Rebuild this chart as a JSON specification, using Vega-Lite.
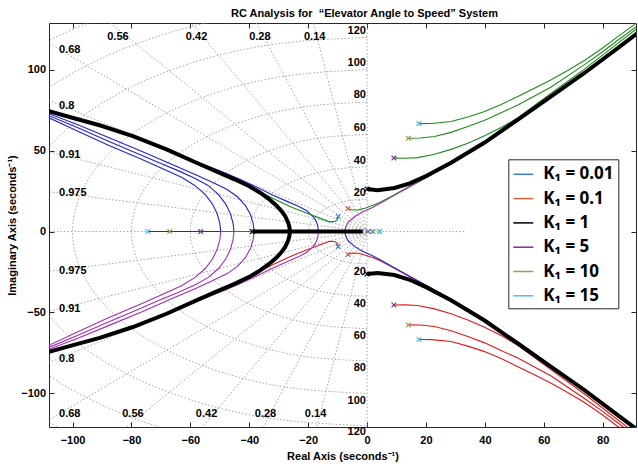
{
"$schema": "https://vega.github.io/schema/vega-lite/v6.json",
"width": 587, "height": 404,
"autosize": {"type": "none"},
"padding": {"left": 49, "top": 23, "right": 2, "bottom": 39},
"title": {"text": "RC Analysis for\u00a0\u00a0“Elevator Angle to Speed” System", "font": "Liberation Sans", "fontSize": 11, "fontWeight": "bold", "color": "#000", "anchor": "middle", "dx": 22, "offset": 4},
"config": {
 "view": {"stroke": "#262626", "strokeWidth": 1},
 "axis": {"labelFont": "Liberation Sans", "labelFontWeight": "bold", "labelFontSize": 11, "labelColor": "#000", "titleFont": "Liberation Sans", "titleFontWeight": "bold", "titleFontSize": 11, "titleColor": "#000", "tickColor": "#262626", "domain": false, "grid": false, "tickSize": -5},
 "text": {"font": "Liberation Sans", "fontWeight": "bold", "fontSize": 11, "color": "#000", "baseline": "middle"}
},
"datasets": {
"grid": [
{"g":"c20","o":0,"x":0,"y":20},{"g":"c20","o":1,"x":-5.18,"y":19.32},{"g":"c20","o":2,"x":-10,"y":17.32},{"g":"c20","o":3,"x":-14.14,"y":14.14},{"g":"c20","o":4,"x":-17.32,"y":10},{"g":"c20","o":5,"x":-19.32,"y":5.18},{"g":"c20","o":6,"x":-20,"y":0},{"g":"c20","o":7,"x":-19.32,"y":-5.18},{"g":"c20","o":8,"x":-17.32,"y":-10},{"g":"c20","o":9,"x":-14.14,"y":-14.14},{"g":"c20","o":10,"x":-10,"y":-17.32},{"g":"c20","o":11,"x":-5.18,"y":-19.32},{"g":"c20","o":12,"x":0,"y":-20},
{"g":"c40","o":0,"x":0,"y":40},{"g":"c40","o":1,"x":-10.35,"y":38.64},{"g":"c40","o":2,"x":-20,"y":34.64},{"g":"c40","o":3,"x":-28.28,"y":28.28},{"g":"c40","o":4,"x":-34.64,"y":20},{"g":"c40","o":5,"x":-38.64,"y":10.35},{"g":"c40","o":6,"x":-40,"y":0},{"g":"c40","o":7,"x":-38.64,"y":-10.35},{"g":"c40","o":8,"x":-34.64,"y":-20},{"g":"c40","o":9,"x":-28.28,"y":-28.28},{"g":"c40","o":10,"x":-20,"y":-34.64},{"g":"c40","o":11,"x":-10.35,"y":-38.64},{"g":"c40","o":12,"x":0,"y":-40},
{"g":"c60","o":0,"x":0,"y":60},{"g":"c60","o":1,"x":-15.53,"y":57.96},{"g":"c60","o":2,"x":-30,"y":51.96},{"g":"c60","o":3,"x":-42.43,"y":42.43},{"g":"c60","o":4,"x":-51.96,"y":30},{"g":"c60","o":5,"x":-57.96,"y":15.53},{"g":"c60","o":6,"x":-60,"y":0},{"g":"c60","o":7,"x":-57.96,"y":-15.53},{"g":"c60","o":8,"x":-51.96,"y":-30},{"g":"c60","o":9,"x":-42.43,"y":-42.43},{"g":"c60","o":10,"x":-30,"y":-51.96},{"g":"c60","o":11,"x":-15.53,"y":-57.96},{"g":"c60","o":12,"x":0,"y":-60},
{"g":"c80","o":0,"x":0,"y":80},{"g":"c80","o":1,"x":-20.71,"y":77.27},{"g":"c80","o":2,"x":-40,"y":69.28},{"g":"c80","o":3,"x":-56.57,"y":56.57},{"g":"c80","o":4,"x":-69.28,"y":40},{"g":"c80","o":5,"x":-77.27,"y":20.71},{"g":"c80","o":6,"x":-80,"y":0},{"g":"c80","o":7,"x":-77.27,"y":-20.71},{"g":"c80","o":8,"x":-69.28,"y":-40},{"g":"c80","o":9,"x":-56.57,"y":-56.57},{"g":"c80","o":10,"x":-40,"y":-69.28},{"g":"c80","o":11,"x":-20.71,"y":-77.27},{"g":"c80","o":12,"x":0,"y":-80},
{"g":"c100","o":0,"x":0,"y":100},{"g":"c100","o":1,"x":-25.88,"y":96.59},{"g":"c100","o":2,"x":-50,"y":86.6},{"g":"c100","o":3,"x":-70.71,"y":70.71},{"g":"c100","o":4,"x":-86.6,"y":50},{"g":"c100","o":5,"x":-96.59,"y":25.88},{"g":"c100","o":6,"x":-100,"y":0},{"g":"c100","o":7,"x":-96.59,"y":-25.88},{"g":"c100","o":8,"x":-86.6,"y":-50},{"g":"c100","o":9,"x":-70.71,"y":-70.71},{"g":"c100","o":10,"x":-50,"y":-86.6},{"g":"c100","o":11,"x":-25.88,"y":-96.59},{"g":"c100","o":12,"x":0,"y":-100},
{"g":"c120","o":0,"x":0,"y":120},{"g":"c120","o":1,"x":-31.06,"y":115.91},{"g":"c120","o":2,"x":-60,"y":103.92},{"g":"c120","o":3,"x":-84.85,"y":84.85},{"g":"c120","o":4,"x":-103.92,"y":60},{"g":"c120","o":5,"x":-115.91,"y":31.06},{"g":"c120","o":6,"x":-120,"y":0},{"g":"c120","o":7,"x":-115.91,"y":-31.06},{"g":"c120","o":8,"x":-103.92,"y":-60},{"g":"c120","o":9,"x":-84.85,"y":-84.85},{"g":"c120","o":10,"x":-60,"y":-103.92},{"g":"c120","o":11,"x":-31.06,"y":-115.91},{"g":"c120","o":12,"x":0,"y":-120},
{"g":"c140","o":0,"x":0,"y":140},{"g":"c140","o":1,"x":-36.23,"y":135.23},{"g":"c140","o":2,"x":-70,"y":121.24},{"g":"c140","o":3,"x":-98.99,"y":98.99},{"g":"c140","o":4,"x":-121.24,"y":70},{"g":"c140","o":5,"x":-135.23,"y":36.23},{"g":"c140","o":6,"x":-140,"y":0},{"g":"c140","o":7,"x":-135.23,"y":-36.23},{"g":"c140","o":8,"x":-121.24,"y":-70},{"g":"c140","o":9,"x":-98.99,"y":-98.99},{"g":"c140","o":10,"x":-70,"y":-121.24},{"g":"c140","o":11,"x":-36.23,"y":-135.23},{"g":"c140","o":12,"x":0,"y":-140},
{"g":"c160","o":0,"x":0,"y":160},{"g":"c160","o":1,"x":-41.41,"y":154.55},{"g":"c160","o":2,"x":-80,"y":138.56},{"g":"c160","o":3,"x":-113.14,"y":113.14},{"g":"c160","o":4,"x":-138.56,"y":80},{"g":"c160","o":5,"x":-154.55,"y":41.41},{"g":"c160","o":6,"x":-160,"y":0},{"g":"c160","o":7,"x":-154.55,"y":-41.41},{"g":"c160","o":8,"x":-138.56,"y":-80},{"g":"c160","o":9,"x":-113.14,"y":-113.14},{"g":"c160","o":10,"x":-80,"y":-138.56},{"g":"c160","o":11,"x":-41.41,"y":-154.55},{"g":"c160","o":12,"x":0,"y":-160},
{"g":"zu14","o":0,"x":0,"y":0},{"g":"zu14","o":1,"x":-28,"y":198},
{"g":"zu28","o":0,"x":0,"y":0},{"g":"zu28","o":1,"x":-56,"y":192},
{"g":"zu42","o":0,"x":0,"y":0},{"g":"zu42","o":1,"x":-84,"y":181.5},
{"g":"zu56","o":0,"x":0,"y":0},{"g":"zu56","o":1,"x":-112,"y":165.7},
{"g":"zu68","o":0,"x":0,"y":0},{"g":"zu68","o":1,"x":-136,"y":146.6},
{"g":"zu80","o":0,"x":0,"y":0},{"g":"zu80","o":1,"x":-160,"y":120},
{"g":"zu91","o":0,"x":0,"y":0},{"g":"zu91","o":1,"x":-182,"y":82.9},
{"g":"zu975","o":0,"x":0,"y":0},{"g":"zu975","o":1,"x":-195,"y":44.4},
{"g":"zl14","o":0,"x":0,"y":0},{"g":"zl14","o":1,"x":-28,"y":-198},
{"g":"zl28","o":0,"x":0,"y":0},{"g":"zl28","o":1,"x":-56,"y":-192},
{"g":"zl42","o":0,"x":0,"y":0},{"g":"zl42","o":1,"x":-84,"y":-181.5},
{"g":"zl56","o":0,"x":0,"y":0},{"g":"zl56","o":1,"x":-112,"y":-165.7},
{"g":"zl68","o":0,"x":0,"y":0},{"g":"zl68","o":1,"x":-136,"y":-146.6},
{"g":"zl80","o":0,"x":0,"y":0},{"g":"zl80","o":1,"x":-160,"y":-120},
{"g":"zl91","o":0,"x":0,"y":0},{"g":"zl91","o":1,"x":-182,"y":-82.9},
{"g":"zl975","o":0,"x":0,"y":0},{"g":"zl975","o":1,"x":-195,"y":-44.4},
{"g":"h0","o":0,"x":-160,"y":0},{"g":"h0","o":1,"x":33,"y":0},
{"g":"v0","o":0,"x":0,"y":-200},{"g":"v0","o":1,"x":0,"y":200}
],
"zs": [{"t":"0.68","x":-104.6,"y":112},{"t":"0.8","x":-104.6,"y":77.7},{"t":"0.91","x":-104.6,"y":47.4},{"t":"0.975","x":-104.6,"y":23.7},{"t":"0.975","x":-104.6,"y":-24.3},{"t":"0.91","x":-104.6,"y":-48},{"t":"0.8","x":-104.6,"y":-78.7},{"t":"0.68","x":-104.6,"y":-113}],
"zt": [{"t":"0.56","x":-84.6,"y":120},{"t":"0.42","x":-57.9,"y":120},{"t":"0.28","x":-36.4,"y":120},{"t":"0.14","x":-17.8,"y":120},{"t":"0.56","x":-79.5,"y":-113},{"t":"0.42","x":-54.5,"y":-113},{"t":"0.28","x":-34.5,"y":-113},{"t":"0.14","x":-17.5,"y":-113}],
"wn": [{"t":"20","x":-0.4,"y":23.7},{"t":"40","x":-0.4,"y":43.9},{"t":"60","x":-0.4,"y":63.9},{"t":"80","x":-0.4,"y":84.1},{"t":"100","x":-0.4,"y":104.1},{"t":"120","x":-0.4,"y":123.7},{"t":"20","x":-0.4,"y":-25.1},{"t":"40","x":-0.4,"y":-44.7},{"t":"60","x":-0.4,"y":-64.5},{"t":"80","x":-0.4,"y":-84.5},{"t":"100","x":-0.4,"y":-104.5},{"t":"120","x":-0.4,"y":-124.1}],
"poles": [
{"k":"1","x":-38.9,"y":0},{"k":"1","x":0,"y":26.3},{"k":"1","x":0,"y":-26.3},
{"k":"5","x":-56.5,"y":0},{"k":"5","x":9.1,"y":45.4},{"k":"5","x":9.1,"y":-45.4},{"k":"5","x":1.9,"y":0},
{"k":"10","x":-67,"y":0},{"k":"10","x":14,"y":57.7},{"k":"10","x":14,"y":-57.7},{"k":"10","x":1.9,"y":0},
{"k":"0.1","x":-6.5,"y":14.2},{"k":"0.1","x":-6.5,"y":-14.2},{"k":"0.1","x":4.2,"y":0},
{"k":"0.01","x":-9.8,"y":9.3},{"k":"0.01","x":-9.8,"y":-9.3},{"k":"0.01","x":0.3,"y":0},
{"k":"15","x":-74.4,"y":0},{"k":"15","x":17.6,"y":66.7},{"k":"15","x":17.6,"y":-66.7},{"k":"15","x":4.2,"y":0}
],
"loci": [
{"k":"15","b":"1","id":"15ul","o":0,"x":-74.4,"y":0},{"k":"15","b":"1","id":"15ul","o":1,"x":-49.7,"y":0},{"k":"15","b":"1","id":"15ul","o":2,"x":-50,"y":5},{"k":"15","b":"1","id":"15ul","o":3,"x":-50.9,"y":11},{"k":"15","b":"1","id":"15ul","o":4,"x":-52.5,"y":17},{"k":"15","b":"1","id":"15ul","o":5,"x":-55,"y":23},{"k":"15","b":"1","id":"15ul","o":6,"x":-58.5,"y":28.5},{"k":"15","b":"1","id":"15ul","o":7,"x":-63,"y":33.5},{"k":"15","b":"1","id":"15ul","o":8,"x":-69,"y":38.5},{"k":"15","b":"1","id":"15ul","o":9,"x":-77,"y":45},{"k":"15","b":"1","id":"15ul","o":10,"x":-88,"y":53.5},{"k":"15","b":"1","id":"15ul","o":11,"x":-98,"y":61.8},{"k":"15","b":"1","id":"15ul","o":12,"x":-108,"y":70.3},{"k":"15","b":"1","id":"15ul","o":13,"x":-112,"y":73.3},
{"k":"15","b":"4","id":"15ll","o":0,"x":-38.9,"y":0},{"k":"15","b":"4","id":"15ll","o":1,"x":-49.7,"y":0},{"k":"15","b":"4","id":"15ll","o":2,"x":-50,"y":-5},{"k":"15","b":"4","id":"15ll","o":3,"x":-50.9,"y":-11},{"k":"15","b":"4","id":"15ll","o":4,"x":-52.5,"y":-17},{"k":"15","b":"4","id":"15ll","o":5,"x":-55,"y":-23},{"k":"15","b":"4","id":"15ll","o":6,"x":-58.5,"y":-28.5},{"k":"15","b":"4","id":"15ll","o":7,"x":-63,"y":-33.5},{"k":"15","b":"4","id":"15ll","o":8,"x":-69,"y":-38.5},{"k":"15","b":"4","id":"15ll","o":9,"x":-77,"y":-45},{"k":"15","b":"4","id":"15ll","o":10,"x":-88,"y":-53.5},{"k":"15","b":"4","id":"15ll","o":11,"x":-98,"y":-61.8},{"k":"15","b":"4","id":"15ll","o":12,"x":-108,"y":-70.3},{"k":"15","b":"4","id":"15ll","o":13,"x":-112,"y":-73.3},
{"k":"15","b":"2","id":"15ur","o":0,"x":17.6,"y":66.7},{"k":"15","b":"2","id":"15ur","o":1,"x":22,"y":66.8},{"k":"15","b":"2","id":"15ur","o":2,"x":28.5,"y":68},{"k":"15","b":"2","id":"15ur","o":3,"x":34.2,"y":70.8},{"k":"15","b":"2","id":"15ur","o":4,"x":39.9,"y":74.2},{"k":"15","b":"2","id":"15ur","o":5,"x":45.5,"y":78.5},{"k":"15","b":"2","id":"15ur","o":6,"x":51.2,"y":83.5},{"k":"15","b":"2","id":"15ur","o":7,"x":56.8,"y":88.5},{"k":"15","b":"2","id":"15ur","o":8,"x":62.5,"y":93.8},{"k":"15","b":"2","id":"15ur","o":9,"x":68.1,"y":99.5},{"k":"15","b":"2","id":"15ur","o":10,"x":73.8,"y":105.7},{"k":"15","b":"2","id":"15ur","o":11,"x":79.5,"y":112.8},{"k":"15","b":"2","id":"15ur","o":12,"x":85.1,"y":120.5},{"k":"15","b":"2","id":"15ur","o":13,"x":95,"y":133.5},
{"k":"15","b":"3","id":"15lr","o":0,"x":17.6,"y":-66.7},{"k":"15","b":"3","id":"15lr","o":1,"x":22,"y":-66.8},{"k":"15","b":"3","id":"15lr","o":2,"x":28.5,"y":-68},{"k":"15","b":"3","id":"15lr","o":3,"x":34.2,"y":-70.8},{"k":"15","b":"3","id":"15lr","o":4,"x":39.9,"y":-74.2},{"k":"15","b":"3","id":"15lr","o":5,"x":45.5,"y":-78.5},{"k":"15","b":"3","id":"15lr","o":6,"x":51.2,"y":-83.5},{"k":"15","b":"3","id":"15lr","o":7,"x":56.8,"y":-88.5},{"k":"15","b":"3","id":"15lr","o":8,"x":62.5,"y":-93.8},{"k":"15","b":"3","id":"15lr","o":9,"x":68.1,"y":-99.5},{"k":"15","b":"3","id":"15lr","o":10,"x":73.8,"y":-105.7},{"k":"15","b":"3","id":"15lr","o":11,"x":79.5,"y":-112.8},{"k":"15","b":"3","id":"15lr","o":12,"x":85.1,"y":-120.5},{"k":"15","b":"3","id":"15lr","o":13,"x":95,"y":-133.5},
{"k":"10","b":"1","id":"10ul","o":0,"x":-67,"y":0},{"k":"10","b":"1","id":"10ul","o":1,"x":-45.2,"y":0},{"k":"10","b":"1","id":"10ul","o":2,"x":-45.5,"y":5},{"k":"10","b":"1","id":"10ul","o":3,"x":-46.4,"y":11},{"k":"10","b":"1","id":"10ul","o":4,"x":-48,"y":17},{"k":"10","b":"1","id":"10ul","o":5,"x":-50.5,"y":23},{"k":"10","b":"1","id":"10ul","o":6,"x":-54,"y":28.5},{"k":"10","b":"1","id":"10ul","o":7,"x":-58.5,"y":33},{"k":"10","b":"1","id":"10ul","o":8,"x":-64,"y":37.5},{"k":"10","b":"1","id":"10ul","o":9,"x":-70,"y":42},{"k":"10","b":"1","id":"10ul","o":10,"x":-77,"y":47.5},{"k":"10","b":"1","id":"10ul","o":11,"x":-88,"y":56},{"k":"10","b":"1","id":"10ul","o":12,"x":-98,"y":64},{"k":"10","b":"1","id":"10ul","o":13,"x":-108,"y":71.6},{"k":"10","b":"1","id":"10ul","o":14,"x":-112,"y":74.5},
{"k":"10","b":"4","id":"10ll","o":0,"x":-38.9,"y":0},{"k":"10","b":"4","id":"10ll","o":1,"x":-45.2,"y":0},{"k":"10","b":"4","id":"10ll","o":2,"x":-45.5,"y":-5},{"k":"10","b":"4","id":"10ll","o":3,"x":-46.4,"y":-11},{"k":"10","b":"4","id":"10ll","o":4,"x":-48,"y":-17},{"k":"10","b":"4","id":"10ll","o":5,"x":-50.5,"y":-23},{"k":"10","b":"4","id":"10ll","o":6,"x":-54,"y":-28.5},{"k":"10","b":"4","id":"10ll","o":7,"x":-58.5,"y":-33},{"k":"10","b":"4","id":"10ll","o":8,"x":-64,"y":-37.5},{"k":"10","b":"4","id":"10ll","o":9,"x":-70,"y":-42},{"k":"10","b":"4","id":"10ll","o":10,"x":-77,"y":-47.5},{"k":"10","b":"4","id":"10ll","o":11,"x":-88,"y":-56},{"k":"10","b":"4","id":"10ll","o":12,"x":-98,"y":-64},{"k":"10","b":"4","id":"10ll","o":13,"x":-108,"y":-71.6},{"k":"10","b":"4","id":"10ll","o":14,"x":-112,"y":-74.5},
{"k":"10","b":"2","id":"10ur","o":0,"x":14,"y":57.7},{"k":"10","b":"2","id":"10ur","o":1,"x":18,"y":57.8},{"k":"10","b":"2","id":"10ur","o":2,"x":22.9,"y":58.7},{"k":"10","b":"2","id":"10ur","o":3,"x":28.5,"y":61.3},{"k":"10","b":"2","id":"10ur","o":4,"x":34.2,"y":64.9},{"k":"10","b":"2","id":"10ur","o":5,"x":39.9,"y":68.8},{"k":"10","b":"2","id":"10ur","o":6,"x":45.5,"y":73.5},{"k":"10","b":"2","id":"10ur","o":7,"x":51.2,"y":78.2},{"k":"10","b":"2","id":"10ur","o":8,"x":62.5,"y":89.3},{"k":"10","b":"2","id":"10ur","o":9,"x":73.8,"y":103.2},{"k":"10","b":"2","id":"10ur","o":10,"x":79.5,"y":110.5},{"k":"10","b":"2","id":"10ur","o":11,"x":85.1,"y":118.2},{"k":"10","b":"2","id":"10ur","o":12,"x":95,"y":131.5},
{"k":"10","b":"3","id":"10lr","o":0,"x":14,"y":-57.7},{"k":"10","b":"3","id":"10lr","o":1,"x":18,"y":-57.8},{"k":"10","b":"3","id":"10lr","o":2,"x":22.9,"y":-58.7},{"k":"10","b":"3","id":"10lr","o":3,"x":28.5,"y":-61.3},{"k":"10","b":"3","id":"10lr","o":4,"x":34.2,"y":-64.9},{"k":"10","b":"3","id":"10lr","o":5,"x":39.9,"y":-68.8},{"k":"10","b":"3","id":"10lr","o":6,"x":45.5,"y":-73.5},{"k":"10","b":"3","id":"10lr","o":7,"x":51.2,"y":-78.2},{"k":"10","b":"3","id":"10lr","o":8,"x":62.5,"y":-89.3},{"k":"10","b":"3","id":"10lr","o":9,"x":73.8,"y":-103.2},{"k":"10","b":"3","id":"10lr","o":10,"x":79.5,"y":-110.5},{"k":"10","b":"3","id":"10lr","o":11,"x":85.1,"y":-118.2},{"k":"10","b":"3","id":"10lr","o":12,"x":95,"y":-131.5},
{"k":"5","b":"1","id":"5ul","o":0,"x":-56.5,"y":0},{"k":"5","b":"1","id":"5ul","o":1,"x":-38.4,"y":0},{"k":"5","b":"1","id":"5ul","o":2,"x":-38.7,"y":5},{"k":"5","b":"1","id":"5ul","o":3,"x":-39.6,"y":10.5},{"k":"5","b":"1","id":"5ul","o":4,"x":-41.3,"y":16},{"k":"5","b":"1","id":"5ul","o":5,"x":-44,"y":21.5},{"k":"5","b":"1","id":"5ul","o":6,"x":-47.5,"y":26},{"k":"5","b":"1","id":"5ul","o":7,"x":-52,"y":30},{"k":"5","b":"1","id":"5ul","o":8,"x":-58,"y":35},{"k":"5","b":"1","id":"5ul","o":9,"x":-65,"y":40.5},{"k":"5","b":"1","id":"5ul","o":10,"x":-77,"y":50},{"k":"5","b":"1","id":"5ul","o":11,"x":-88,"y":58.3},{"k":"5","b":"1","id":"5ul","o":12,"x":-98,"y":65.8},{"k":"5","b":"1","id":"5ul","o":13,"x":-108,"y":72.8},{"k":"5","b":"1","id":"5ul","o":14,"x":-112,"y":75.6},
{"k":"5","b":"4","id":"5ll","o":0,"x":-30,"y":0},{"k":"5","b":"4","id":"5ll","o":1,"x":-38.4,"y":0},{"k":"5","b":"4","id":"5ll","o":2,"x":-38.7,"y":-5},{"k":"5","b":"4","id":"5ll","o":3,"x":-39.6,"y":-10.5},{"k":"5","b":"4","id":"5ll","o":4,"x":-41.3,"y":-16},{"k":"5","b":"4","id":"5ll","o":5,"x":-44,"y":-21.5},{"k":"5","b":"4","id":"5ll","o":6,"x":-47.5,"y":-26},{"k":"5","b":"4","id":"5ll","o":7,"x":-52,"y":-30},{"k":"5","b":"4","id":"5ll","o":8,"x":-58,"y":-35},{"k":"5","b":"4","id":"5ll","o":9,"x":-65,"y":-40.5},{"k":"5","b":"4","id":"5ll","o":10,"x":-77,"y":-50},{"k":"5","b":"4","id":"5ll","o":11,"x":-88,"y":-58.3},{"k":"5","b":"4","id":"5ll","o":12,"x":-98,"y":-65.8},{"k":"5","b":"4","id":"5ll","o":13,"x":-108,"y":-72.8},{"k":"5","b":"4","id":"5ll","o":14,"x":-112,"y":-75.6},
{"k":"5","b":"2","id":"5ur","o":0,"x":9.1,"y":45.4},{"k":"5","b":"2","id":"5ur","o":1,"x":13,"y":45.3},{"k":"5","b":"2","id":"5ur","o":2,"x":17.2,"y":45.7},{"k":"5","b":"2","id":"5ur","o":3,"x":22.9,"y":47.8},{"k":"5","b":"2","id":"5ur","o":4,"x":28.5,"y":50.8},{"k":"5","b":"2","id":"5ur","o":5,"x":34.2,"y":54.6},{"k":"5","b":"2","id":"5ur","o":6,"x":39.9,"y":59.2},{"k":"5","b":"2","id":"5ur","o":7,"x":45.5,"y":64.3},{"k":"5","b":"2","id":"5ur","o":8,"x":51.2,"y":70.3},{"k":"5","b":"2","id":"5ur","o":9,"x":62.5,"y":85.5},{"k":"5","b":"2","id":"5ur","o":10,"x":73.8,"y":100.4},{"k":"5","b":"2","id":"5ur","o":11,"x":85.1,"y":116.3},{"k":"5","b":"2","id":"5ur","o":12,"x":95,"y":130.2},
{"k":"5","b":"3","id":"5lr","o":0,"x":9.1,"y":-45.4},{"k":"5","b":"3","id":"5lr","o":1,"x":13,"y":-45.3},{"k":"5","b":"3","id":"5lr","o":2,"x":17.2,"y":-45.7},{"k":"5","b":"3","id":"5lr","o":3,"x":22.9,"y":-47.8},{"k":"5","b":"3","id":"5lr","o":4,"x":28.5,"y":-50.8},{"k":"5","b":"3","id":"5lr","o":5,"x":34.2,"y":-54.6},{"k":"5","b":"3","id":"5lr","o":6,"x":39.9,"y":-59.2},{"k":"5","b":"3","id":"5lr","o":7,"x":45.5,"y":-64.3},{"k":"5","b":"3","id":"5lr","o":8,"x":51.2,"y":-70.3},{"k":"5","b":"3","id":"5lr","o":9,"x":62.5,"y":-85.5},{"k":"5","b":"3","id":"5lr","o":10,"x":73.8,"y":-100.4},{"k":"5","b":"3","id":"5lr","o":11,"x":85.1,"y":-116.3},{"k":"5","b":"3","id":"5lr","o":12,"x":95,"y":-130.2},
{"k":"0.1","b":"1","id":"01ul","o":0,"x":-16.6,"y":0},{"k":"0.1","b":"1","id":"01ul","o":1,"x":-16.7,"y":3},{"k":"0.1","b":"1","id":"01ul","o":2,"x":-17.2,"y":6},{"k":"0.1","b":"1","id":"01ul","o":3,"x":-18.3,"y":9.3},{"k":"0.1","b":"1","id":"01ul","o":4,"x":-20.6,"y":13},{"k":"0.1","b":"1","id":"01ul","o":5,"x":-23.5,"y":15.8},{"k":"0.1","b":"1","id":"01ul","o":6,"x":-27,"y":18.5},{"k":"0.1","b":"1","id":"01ul","o":7,"x":-31.9,"y":22.5},{"k":"0.1","b":"1","id":"01ul","o":8,"x":-37.6,"y":27.5},{"k":"0.1","b":"1","id":"01ul","o":9,"x":-43.2,"y":32.3},{"k":"0.1","b":"1","id":"01ul","o":10,"x":-50,"y":37.5},{"k":"0.1","b":"1","id":"01ul","o":11,"x":-56.8,"y":42.2},{"k":"0.1","b":"1","id":"01ul","o":12,"x":-68.1,"y":51},{"k":"0.1","b":"1","id":"01ul","o":13,"x":-79.5,"y":59.1},{"k":"0.1","b":"1","id":"01ul","o":14,"x":-90.8,"y":65.8},{"k":"0.1","b":"1","id":"01ul","o":15,"x":-99.8,"y":70.3},{"k":"0.1","b":"1","id":"01ul","o":16,"x":-108,"y":74.5},{"k":"0.1","b":"1","id":"01ul","o":17,"x":-112,"y":76.5},
{"k":"0.1","b":"4","id":"01ll","o":0,"x":-16.6,"y":0},{"k":"0.1","b":"4","id":"01ll","o":1,"x":-16.7,"y":-3},{"k":"0.1","b":"4","id":"01ll","o":2,"x":-17.2,"y":-6},{"k":"0.1","b":"4","id":"01ll","o":3,"x":-18.3,"y":-9.3},{"k":"0.1","b":"4","id":"01ll","o":4,"x":-20.6,"y":-13},{"k":"0.1","b":"4","id":"01ll","o":5,"x":-23.5,"y":-15.8},{"k":"0.1","b":"4","id":"01ll","o":6,"x":-27,"y":-18.5},{"k":"0.1","b":"4","id":"01ll","o":7,"x":-31.9,"y":-22.5},{"k":"0.1","b":"4","id":"01ll","o":8,"x":-37.6,"y":-27.5},{"k":"0.1","b":"4","id":"01ll","o":9,"x":-43.2,"y":-32.3},{"k":"0.1","b":"4","id":"01ll","o":10,"x":-50,"y":-37.5},{"k":"0.1","b":"4","id":"01ll","o":11,"x":-56.8,"y":-42.2},{"k":"0.1","b":"4","id":"01ll","o":12,"x":-68.1,"y":-51},{"k":"0.1","b":"4","id":"01ll","o":13,"x":-79.5,"y":-59.1},{"k":"0.1","b":"4","id":"01ll","o":14,"x":-90.8,"y":-65.8},{"k":"0.1","b":"4","id":"01ll","o":15,"x":-99.8,"y":-70.3},{"k":"0.1","b":"4","id":"01ll","o":16,"x":-108,"y":-74.5},{"k":"0.1","b":"4","id":"01ll","o":17,"x":-112,"y":-76.5},
{"k":"0.1","b":"2","id":"01ur","o":0,"x":-6.5,"y":14.2},{"k":"0.1","b":"2","id":"01ur","o":1,"x":-5,"y":13.3},{"k":"0.1","b":"2","id":"01ur","o":2,"x":-3,"y":13.4},{"k":"0.1","b":"2","id":"01ur","o":3,"x":-0.5,"y":14.6},{"k":"0.1","b":"2","id":"01ur","o":4,"x":2,"y":16.2},{"k":"0.1","b":"2","id":"01ur","o":5,"x":4.3,"y":17.9},{"k":"0.1","b":"2","id":"01ur","o":6,"x":8.8,"y":22.3},{"k":"0.1","b":"2","id":"01ur","o":7,"x":14,"y":27.5},{"k":"0.1","b":"2","id":"01ur","o":8,"x":20,"y":33.3},{"k":"0.1","b":"2","id":"01ur","o":9,"x":26,"y":39.3},{"k":"0.1","b":"2","id":"01ur","o":10,"x":32,"y":45.6},{"k":"0.1","b":"2","id":"01ur","o":11,"x":39.9,"y":54.2},{"k":"0.1","b":"2","id":"01ur","o":12,"x":51.2,"y":68.6},{"k":"0.1","b":"2","id":"01ur","o":13,"x":62.5,"y":83.1},{"k":"0.1","b":"2","id":"01ur","o":14,"x":73.8,"y":97.5},{"k":"0.1","b":"2","id":"01ur","o":15,"x":85.1,"y":113},{"k":"0.1","b":"2","id":"01ur","o":16,"x":95,"y":126.6},
{"k":"0.1","b":"3","id":"01lr","o":0,"x":-6.5,"y":-14.2},{"k":"0.1","b":"3","id":"01lr","o":1,"x":-5,"y":-13.3},{"k":"0.1","b":"3","id":"01lr","o":2,"x":-3,"y":-13.4},{"k":"0.1","b":"3","id":"01lr","o":3,"x":-0.5,"y":-14.6},{"k":"0.1","b":"3","id":"01lr","o":4,"x":2,"y":-16.2},{"k":"0.1","b":"3","id":"01lr","o":5,"x":4.3,"y":-17.9},{"k":"0.1","b":"3","id":"01lr","o":6,"x":8.8,"y":-22.3},{"k":"0.1","b":"3","id":"01lr","o":7,"x":14,"y":-27.5},{"k":"0.1","b":"3","id":"01lr","o":8,"x":20,"y":-33.3},{"k":"0.1","b":"3","id":"01lr","o":9,"x":26,"y":-39.3},{"k":"0.1","b":"3","id":"01lr","o":10,"x":32,"y":-45.6},{"k":"0.1","b":"3","id":"01lr","o":11,"x":39.9,"y":-54.2},{"k":"0.1","b":"3","id":"01lr","o":12,"x":51.2,"y":-68.6},{"k":"0.1","b":"3","id":"01lr","o":13,"x":62.5,"y":-83.1},{"k":"0.1","b":"3","id":"01lr","o":14,"x":73.8,"y":-97.5},{"k":"0.1","b":"3","id":"01lr","o":15,"x":85.1,"y":-113},{"k":"0.1","b":"3","id":"01lr","o":16,"x":95,"y":-126.6},
{"k":"0.01","b":"2","id":"001ul","o":0,"x":-9.8,"y":9.3},{"k":"0.01","b":"2","id":"001ul","o":1,"x":-10,"y":7.5},{"k":"0.01","b":"2","id":"001ul","o":2,"x":-10.8,"y":6.3},{"k":"0.01","b":"2","id":"001ul","o":3,"x":-12.7,"y":6},{"k":"0.01","b":"2","id":"001ul","o":4,"x":-16.1,"y":8.3},{"k":"0.01","b":"2","id":"001ul","o":5,"x":-20.6,"y":11.4},{"k":"0.01","b":"2","id":"001ul","o":6,"x":-26.2,"y":15.5},{"k":"0.01","b":"2","id":"001ul","o":7,"x":-31.9,"y":20.4},{"k":"0.01","b":"2","id":"001ul","o":8,"x":-37.6,"y":25.8},{"k":"0.01","b":"2","id":"001ul","o":9,"x":-43.2,"y":31.2},{"k":"0.01","b":"2","id":"001ul","o":10,"x":-50,"y":36.6},{"k":"0.01","b":"2","id":"001ul","o":11,"x":-56.8,"y":41.9},{"k":"0.01","b":"2","id":"001ul","o":12,"x":-68.1,"y":50.8},{"k":"0.01","b":"2","id":"001ul","o":13,"x":-79.5,"y":59},{"k":"0.01","b":"2","id":"001ul","o":14,"x":-90.8,"y":65.7},{"k":"0.01","b":"2","id":"001ul","o":15,"x":-99.8,"y":70.2},{"k":"0.01","b":"2","id":"001ul","o":16,"x":-108,"y":74.4},{"k":"0.01","b":"2","id":"001ul","o":17,"x":-112,"y":76.4},
{"k":"0.01","b":"3","id":"001ll","o":0,"x":-9.8,"y":-9.3},{"k":"0.01","b":"3","id":"001ll","o":1,"x":-10,"y":-7.5},{"k":"0.01","b":"3","id":"001ll","o":2,"x":-10.8,"y":-6.3},{"k":"0.01","b":"3","id":"001ll","o":3,"x":-12.7,"y":-6},{"k":"0.01","b":"3","id":"001ll","o":4,"x":-16.1,"y":-8.3},{"k":"0.01","b":"3","id":"001ll","o":5,"x":-20.6,"y":-11.4},{"k":"0.01","b":"3","id":"001ll","o":6,"x":-26.2,"y":-15.5},{"k":"0.01","b":"3","id":"001ll","o":7,"x":-31.9,"y":-20.4},{"k":"0.01","b":"3","id":"001ll","o":8,"x":-37.6,"y":-25.8},{"k":"0.01","b":"3","id":"001ll","o":9,"x":-43.2,"y":-31.2},{"k":"0.01","b":"3","id":"001ll","o":10,"x":-50,"y":-36.6},{"k":"0.01","b":"3","id":"001ll","o":11,"x":-56.8,"y":-41.9},{"k":"0.01","b":"3","id":"001ll","o":12,"x":-68.1,"y":-50.8},{"k":"0.01","b":"3","id":"001ll","o":13,"x":-79.5,"y":-59},{"k":"0.01","b":"3","id":"001ll","o":14,"x":-90.8,"y":-65.7},{"k":"0.01","b":"3","id":"001ll","o":15,"x":-99.8,"y":-70.2},{"k":"0.01","b":"3","id":"001ll","o":16,"x":-108,"y":-74.4},{"k":"0.01","b":"3","id":"001ll","o":17,"x":-112,"y":-76.4},
{"k":"0.01","b":"4","id":"001ur","o":0,"x":-7.6,"y":0},{"k":"0.01","b":"4","id":"001ur","o":1,"x":-7.3,"y":2.5},{"k":"0.01","b":"4","id":"001ur","o":2,"x":-6.5,"y":5.5},{"k":"0.01","b":"4","id":"001ur","o":3,"x":-4.2,"y":9.3},{"k":"0.01","b":"4","id":"001ur","o":4,"x":-1.5,"y":12.2},{"k":"0.01","b":"4","id":"001ur","o":5,"x":1.5,"y":14.6},{"k":"0.01","b":"4","id":"001ur","o":6,"x":4.3,"y":17.3},{"k":"0.01","b":"4","id":"001ur","o":7,"x":8.8,"y":21.9},{"k":"0.01","b":"4","id":"001ur","o":8,"x":14,"y":27.2},{"k":"0.01","b":"4","id":"001ur","o":9,"x":20,"y":33.2},{"k":"0.01","b":"4","id":"001ur","o":10,"x":26,"y":39.3},{"k":"0.01","b":"4","id":"001ur","o":11,"x":32,"y":45.6},{"k":"0.01","b":"4","id":"001ur","o":12,"x":39.9,"y":54.2},{"k":"0.01","b":"4","id":"001ur","o":13,"x":51.2,"y":68.6},{"k":"0.01","b":"4","id":"001ur","o":14,"x":62.5,"y":83.1},{"k":"0.01","b":"4","id":"001ur","o":15,"x":73.8,"y":97.5},{"k":"0.01","b":"4","id":"001ur","o":16,"x":85.1,"y":113},{"k":"0.01","b":"4","id":"001ur","o":17,"x":95,"y":126.6},
{"k":"0.01","b":"1","id":"001lr","o":0,"x":-7.6,"y":0},{"k":"0.01","b":"1","id":"001lr","o":1,"x":-7.3,"y":-2.5},{"k":"0.01","b":"1","id":"001lr","o":2,"x":-6.5,"y":-5.5},{"k":"0.01","b":"1","id":"001lr","o":3,"x":-4.2,"y":-9.3},{"k":"0.01","b":"1","id":"001lr","o":4,"x":-1.5,"y":-12.2},{"k":"0.01","b":"1","id":"001lr","o":5,"x":1.5,"y":-14.6},{"k":"0.01","b":"1","id":"001lr","o":6,"x":4.3,"y":-17.3},{"k":"0.01","b":"1","id":"001lr","o":7,"x":8.8,"y":-21.9},{"k":"0.01","b":"1","id":"001lr","o":8,"x":14,"y":-27.2},{"k":"0.01","b":"1","id":"001lr","o":9,"x":20,"y":-33.2},{"k":"0.01","b":"1","id":"001lr","o":10,"x":26,"y":-39.3},{"k":"0.01","b":"1","id":"001lr","o":11,"x":32,"y":-45.6},{"k":"0.01","b":"1","id":"001lr","o":12,"x":39.9,"y":-54.2},{"k":"0.01","b":"1","id":"001lr","o":13,"x":51.2,"y":-68.6},{"k":"0.01","b":"1","id":"001lr","o":14,"x":62.5,"y":-83.1},{"k":"0.01","b":"1","id":"001lr","o":15,"x":73.8,"y":-97.5},{"k":"0.01","b":"1","id":"001lr","o":16,"x":85.1,"y":-113},{"k":"0.01","b":"1","id":"001lr","o":17,"x":95,"y":-126.6},
{"k":"1","b":"0","id":"1ax","o":0,"x":-38.9,"y":0},{"k":"1","b":"0","id":"1ax","o":1,"x":-1.5,"y":0},
{"k":"1","b":"0","id":"1ul","o":0,"x":-26.2,"y":0},{"k":"1","b":"0","id":"1ul","o":1,"x":-26.4,"y":3},{"k":"1","b":"0","id":"1ul","o":2,"x":-26.9,"y":6},{"k":"1","b":"0","id":"1ul","o":3,"x":-27.8,"y":9.5},{"k":"1","b":"0","id":"1ul","o":4,"x":-29.2,"y":13},{"k":"1","b":"0","id":"1ul","o":5,"x":-31,"y":16.5},{"k":"1","b":"0","id":"1ul","o":6,"x":-33.3,"y":20},{"k":"1","b":"0","id":"1ul","o":7,"x":-36.3,"y":24},{"k":"1","b":"0","id":"1ul","o":8,"x":-40,"y":28},{"k":"1","b":"0","id":"1ul","o":9,"x":-45,"y":32.3},{"k":"1","b":"0","id":"1ul","o":10,"x":-51,"y":37},{"k":"1","b":"0","id":"1ul","o":11,"x":-56.8,"y":41.6},{"k":"1","b":"0","id":"1ul","o":12,"x":-68.1,"y":50.8},{"k":"1","b":"0","id":"1ul","o":13,"x":-79.5,"y":59},{"k":"1","b":"0","id":"1ul","o":14,"x":-90.8,"y":65.7},{"k":"1","b":"0","id":"1ul","o":15,"x":-99.8,"y":70.2},{"k":"1","b":"0","id":"1ul","o":16,"x":-108,"y":74.4},{"k":"1","b":"0","id":"1ul","o":17,"x":-112,"y":76.4},
{"k":"1","b":"0","id":"1ll","o":0,"x":-26.2,"y":0},{"k":"1","b":"0","id":"1ll","o":1,"x":-26.4,"y":-3},{"k":"1","b":"0","id":"1ll","o":2,"x":-26.9,"y":-6},{"k":"1","b":"0","id":"1ll","o":3,"x":-27.8,"y":-9.5},{"k":"1","b":"0","id":"1ll","o":4,"x":-29.2,"y":-13},{"k":"1","b":"0","id":"1ll","o":5,"x":-31,"y":-16.5},{"k":"1","b":"0","id":"1ll","o":6,"x":-33.3,"y":-20},{"k":"1","b":"0","id":"1ll","o":7,"x":-36.3,"y":-24},{"k":"1","b":"0","id":"1ll","o":8,"x":-40,"y":-28},{"k":"1","b":"0","id":"1ll","o":9,"x":-45,"y":-32.3},{"k":"1","b":"0","id":"1ll","o":10,"x":-51,"y":-37},{"k":"1","b":"0","id":"1ll","o":11,"x":-56.8,"y":-41.6},{"k":"1","b":"0","id":"1ll","o":12,"x":-68.1,"y":-50.8},{"k":"1","b":"0","id":"1ll","o":13,"x":-79.5,"y":-59},{"k":"1","b":"0","id":"1ll","o":14,"x":-90.8,"y":-65.7},{"k":"1","b":"0","id":"1ll","o":15,"x":-99.8,"y":-70.2},{"k":"1","b":"0","id":"1ll","o":16,"x":-108,"y":-74.4},{"k":"1","b":"0","id":"1ll","o":17,"x":-112,"y":-76.4},
{"k":"1","b":"0","id":"1ur","o":0,"x":0,"y":26.3},{"k":"1","b":"0","id":"1ur","o":1,"x":3.6,"y":25.6},{"k":"1","b":"0","id":"1ur","o":2,"x":9.3,"y":26.9},{"k":"1","b":"0","id":"1ur","o":3,"x":14.5,"y":29.8},{"k":"1","b":"0","id":"1ur","o":4,"x":20.2,"y":34.5},{"k":"1","b":"0","id":"1ur","o":5,"x":28.5,"y":42.5},{"k":"1","b":"0","id":"1ur","o":6,"x":39.9,"y":55},{"k":"1","b":"0","id":"1ur","o":7,"x":51.2,"y":69.2},{"k":"1","b":"0","id":"1ur","o":8,"x":62.5,"y":83.6},{"k":"1","b":"0","id":"1ur","o":9,"x":73.8,"y":98},{"k":"1","b":"0","id":"1ur","o":10,"x":85.1,"y":113.4},{"k":"1","b":"0","id":"1ur","o":11,"x":95,"y":127},
{"k":"1","b":"0","id":"1lr","o":0,"x":0,"y":-26.3},{"k":"1","b":"0","id":"1lr","o":1,"x":3.6,"y":-25.6},{"k":"1","b":"0","id":"1lr","o":2,"x":9.3,"y":-26.9},{"k":"1","b":"0","id":"1lr","o":3,"x":14.5,"y":-29.8},{"k":"1","b":"0","id":"1lr","o":4,"x":20.2,"y":-34.5},{"k":"1","b":"0","id":"1lr","o":5,"x":28.5,"y":-42.5},{"k":"1","b":"0","id":"1lr","o":6,"x":39.9,"y":-55},{"k":"1","b":"0","id":"1lr","o":7,"x":51.2,"y":-69.2},{"k":"1","b":"0","id":"1lr","o":8,"x":62.5,"y":-83.6},{"k":"1","b":"0","id":"1lr","o":9,"x":73.8,"y":-98},{"k":"1","b":"0","id":"1lr","o":10,"x":85.1,"y":-113.4},{"k":"1","b":"0","id":"1lr","o":11,"x":95,"y":-127}
]
},
"layer": [
{"data": {"name": "grid"},
 "mark": {"type": "line", "clip": true, "interpolate": "natural", "stroke": "#9a9a9a", "strokeWidth": 0.9, "strokeDash": [1.5, 2]},
 "encoding": {
  "x": {"field": "x", "type": "quantitative", "scale": {"domain": [-108, 91.3], "nice": false, "zero": false},
        "axis": {"orient": "bottom", "values": [-100,-80,-60,-40,-20,0,20,40,60,80], "title": "Real Axis (seconds⁻¹)", "labelPadding": 12, "titlePadding": 5}},
  "y": {"field": "y", "type": "quantitative", "scale": {"domain": [-120.8, 128.9], "nice": false, "zero": false},
        "axis": {"orient": "left", "values": [-100,-50,0,50,100], "title": "Imaginary Axis (seconds⁻¹)", "labelPadding": 8.5, "titlePadding": 3}},
  "detail": {"field": "g"},
  "order": {"field": "o"}
 }},
{"data": {"name": "zs"}, "mark": {"type": "text", "align": "left"},
 "encoding": {"x": {"field": "x", "type": "quantitative", "axis": null}, "y": {"field": "y", "type": "quantitative", "axis": null}, "text": {"field": "t"}}},
{"data": {"name": "zt"}, "mark": {"type": "text", "align": "center"},
 "encoding": {"x": {"field": "x", "type": "quantitative", "axis": null}, "y": {"field": "y", "type": "quantitative", "axis": null}, "text": {"field": "t"}}},
{"data": {"name": "wn"}, "mark": {"type": "text", "align": "right"},
 "encoding": {"x": {"field": "x", "type": "quantitative", "axis": null}, "y": {"field": "y", "type": "quantitative", "axis": null}, "text": {"field": "t"}}},
{"data": {"name": "loci"}, "transform": [{"filter": "datum.k !== '1' && datum.b !== '4'"}],
 "mark": {"type": "line", "clip": true, "strokeWidth": 1.1},
 "encoding": {"x": {"field": "x", "type": "quantitative", "axis": null}, "y": {"field": "y", "type": "quantitative", "axis": null},
  "color": {"field": "b", "type": "nominal", "scale": {"domain": ["1","2","3"], "range": ["#2424cf","#1d8a1d","#e01a1a"]}, "legend": null},
  "detail": {"field": "id"}, "order": {"field": "o"}}},
{"data": {"name": "loci"}, "transform": [{"filter": "datum.k !== '1' && datum.b === '4'"}],
 "mark": {"type": "line", "clip": true, "strokeWidth": 1.1, "color": "#a12cb4"},
 "encoding": {"x": {"field": "x", "type": "quantitative", "axis": null}, "y": {"field": "y", "type": "quantitative", "axis": null},
  "detail": {"field": "id"}, "order": {"field": "o"}}},
{"data": {"name": "loci"}, "transform": [{"filter": "datum.k === '1'"}],
 "mark": {"type": "line", "clip": true, "strokeWidth": 4, "color": "#000"},
 "encoding": {"x": {"field": "x", "type": "quantitative", "axis": null}, "y": {"field": "y", "type": "quantitative", "axis": null},
  "detail": {"field": "id"}, "order": {"field": "o"}}},
{"data": {"name": "poles"},
 "mark": {"type": "point", "shape": "M-1,-1L1,1M-1,1L1,-1", "size": 22, "filled": false, "strokeWidth": 1.2, "opacity": 1},
 "encoding": {
  "x": {"field": "x", "type": "quantitative", "axis": {"orient": "top", "values": [-100,-80,-60,-40,-20,0,20,40,60,80], "labels": false, "title": null}},
  "y": {"field": "y", "type": "quantitative", "axis": {"orient": "right", "values": [-100,-50,0,50,100], "labels": false, "title": null}},
  "color": {"field": "k", "type": "nominal",
   "scale": {"domain": ["0.01","0.1","1","5","10","15"], "range": ["#3a80c8","#d9623e","#000000","#7e2f8e","#9c9c52","#4dbeee"]},
   "legend": {"orient": "none", "legendX": 459.3, "legendY": 136.3, "title": null,
    "labelExpr": "'K₁ = ' + datum.label + '\u00a0\u00a0\u00a0\u00a0'",
    "labelFont": "Noto Sans", "labelFontSize": 17, "labelFontWeight": "bold", "labelColor": "#000", "labelOffset": 9,
    "symbolType": "stroke", "symbolSize": 400, "symbolStrokeWidth": 1.5,
    "strokeColor": "#262626", "fillColor": "#ffffff", "padding": 4, "rowPadding": 5.3,
    "encode": {"symbols": {"update": {"shape": {"value": "stroke"}, "size": {"value": 400}, "strokeWidth": {"signal": "datum.value === '1' ? 4 : 1.5"}}}}}}
 }}
],
"resolve": {"scale": {"color": "independent"}, "axis": {"x": "independent", "y": "independent"}}
}
